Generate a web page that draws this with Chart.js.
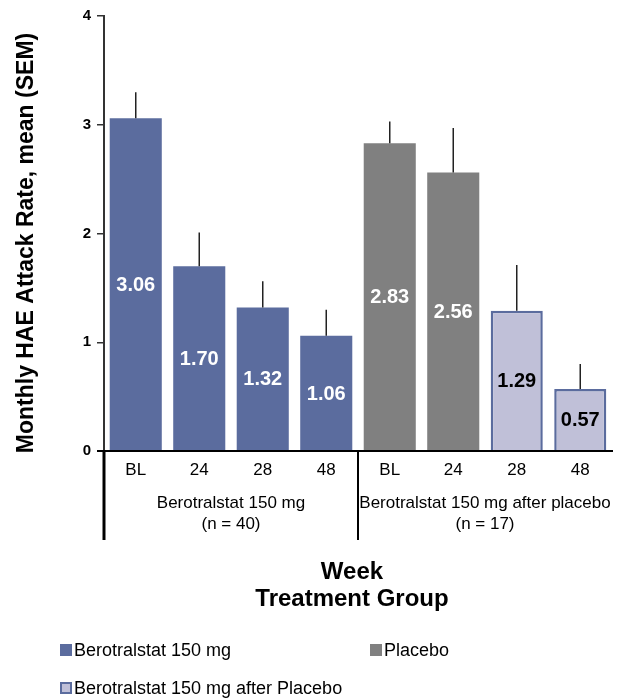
<!DOCTYPE html>
<html>
<head>
<meta charset="utf-8">
<style>
  html, body { margin: 0; padding: 0; background: #fff; }
  #wrap { width: 625px; height: 700px; position: relative; }
</style>
<script src="https://cdn.jsdelivr.net/npm/chart.js@4"></script>
</head>
<body>
<div id="wrap"><canvas id="chart" width="625" height="700"></canvas></div>
<script>
// data
const weeks = ["BL", "24", "28", "48", "BL", "24", "28", "48"];
const meanRate = [3.06, 1.70, 1.32, 1.06, 2.83, 2.56, 1.29, 0.57];
const semUp = [0.24, 0.31, 0.24, 0.24, 0.20, 0.41, 0.42, 0.23];
const barKind = ["bero", "bero", "bero", "bero", "pbo", "pbo", "after", "after"];
const groups = [
  { from: 0, to: 3, lines: ["Berotralstat 150 mg", "(n = 40)"] },
  { from: 4, to: 7, lines: ["Berotralstat 150 mg after placebo", "(n = 17)"] },
];
const yTicks = [0, 1, 2, 3, 4];
const legendItems = [
  { kind: "bero", label: "Berotralstat 150 mg" },
  { kind: "pbo", label: "Placebo" },
  { kind: "after", label: "Berotralstat 150 mg after Placebo" },
];

const BLUE = "#5b6c9e";
const fills = { bero: BLUE, pbo: "#808080", after: "#c0c0d8" };
const borders = { bero: BLUE, pbo: "#808080", after: BLUE };
const labelColor = { bero: "#fff", pbo: "#fff", after: "#000" };
const FONT = "'Liberation Sans', Arial, sans-serif";

const overlay = {
  id: "overlay",
  afterDatasetsDraw(chart) {
    const { ctx, chartArea } = chart;
    const x = chart.scales.x, y = chart.scales.y;
    const meta = chart.getDatasetMeta(0);
    ctx.save();

    // error bars (upper only)
    ctx.strokeStyle = "#222";
    ctx.lineWidth = 1.5;
    meta.data.forEach((bar, i) => {
      const top = y.getPixelForValue(meanRate[i] + semUp[i]);
      ctx.beginPath();
      ctx.moveTo(bar.x, bar.y);
      ctx.lineTo(bar.x, top);
      ctx.stroke();
    });

    // value labels in the bars
    ctx.font = "bold 20px " + FONT;
    ctx.textAlign = "center";
    ctx.textBaseline = "middle";
    meta.data.forEach((bar, i) => {
      ctx.fillStyle = labelColor[barKind[i]];
      ctx.fillText(meanRate[i].toFixed(2), bar.x, (bar.y + bar.base) / 2 + 1);
    });

    // x axis line and group separators
    const base = chartArea.bottom;
    ctx.strokeStyle = "#000";
    ctx.lineWidth = 2;
    ctx.beginPath();
    ctx.moveTo(chartArea.left - 7, base);
    ctx.lineTo(chartArea.right + 1, base);
    ctx.stroke();

    const step = x.getPixelForValue(1) - x.getPixelForValue(0);
    ctx.lineWidth = 3;
    ctx.beginPath();
    ctx.moveTo(chartArea.left, base);
    ctx.lineTo(chartArea.left, base + 89);
    ctx.stroke();
    ctx.lineWidth = 2;
    const mid = x.getPixelForValue(groups[1].from) - step / 2;
    ctx.beginPath();
    ctx.moveTo(mid, base);
    ctx.lineTo(mid, base + 89);
    ctx.stroke();

    // category labels
    ctx.fillStyle = "#000";
    ctx.font = "17px " + FONT;
    weeks.forEach((w, i) => ctx.fillText(w, x.getPixelForValue(i), base + 19));

    // group labels
    groups.forEach((g) => {
      const cx = (x.getPixelForValue(g.from) + x.getPixelForValue(g.to)) / 2;
      g.lines.forEach((t, j) => ctx.fillText(t, cx, base + 52 + j * 21));
    });

    // x title
    ctx.font = "bold 24px " + FONT;
    const tx = (chartArea.left + chartArea.right) / 2 - 6;
    ctx.fillText("Week", tx, 572);
    ctx.fillText("Treatment Group", tx, 599);

    // y title
    ctx.save();
    ctx.translate(27, 243);
    ctx.rotate(-Math.PI / 2);
    ctx.font = "bold 23px " + FONT;
    ctx.fillText("Monthly HAE Attack Rate, mean (SEM)", 0, 0);
    ctx.restore();

    // legend
    const spots = [[60, 650], [370, 650], [60, 688]];
    ctx.font = "18px " + FONT;
    ctx.textAlign = "left";
    legendItems.forEach((it, i) => {
      const [lx, ly] = spots[i];
      ctx.fillStyle = fills[it.kind];
      ctx.fillRect(lx, ly - 6, 12, 12);
      if (it.kind === "after") {
        ctx.strokeStyle = BLUE;
        ctx.lineWidth = 2;
        ctx.strokeRect(lx + 1, ly - 5, 10, 10);
      }
      ctx.fillStyle = "#000";
      ctx.fillText(it.label, lx + 14, ly + 1);
    });

    ctx.restore();
  },
};

new Chart(document.getElementById("chart"), {
  type: "bar",
  data: {
    labels: weeks,
    datasets: [{
      data: meanRate,
      backgroundColor: barKind.map((k) => fills[k]),
      borderColor: barKind.map((k) => borders[k]),
      borderWidth: barKind.map((k) => (k === "after" ? 2.5 : 0)),
      categoryPercentage: 1,
      barPercentage: 0.82,
    }],
  },
  options: {
    responsive: false,
    animation: false,
    layout: { padding: { top: 16, right: 13, left: 0, bottom: 0 } },
    plugins: { legend: { display: false }, tooltip: { enabled: false } },
    scales: {
      x: {
        ticks: { display: false },
        grid: { display: false },
        border: { display: false },
        afterFit: (s) => { s.height = 249; },
      },
      y: {
        min: 0,
        max: 4,
        afterBuildTicks: (s) => { s.ticks = yTicks.map((v) => ({ value: v })); },
        ticks: {
          color: "#000",
          font: { family: FONT, size: 15, weight: "bold" },
          padding: 6,
        },
        grid: { drawOnChartArea: false, drawTicks: true, tickLength: 7, color: "#333", lineWidth: 1.5 },
        border: { display: true, color: "#333", width: 2 },
        afterFit: (s) => { s.width = 104; },
      },
    },
  },
  plugins: [overlay],
});
</script>
</body>
</html>
